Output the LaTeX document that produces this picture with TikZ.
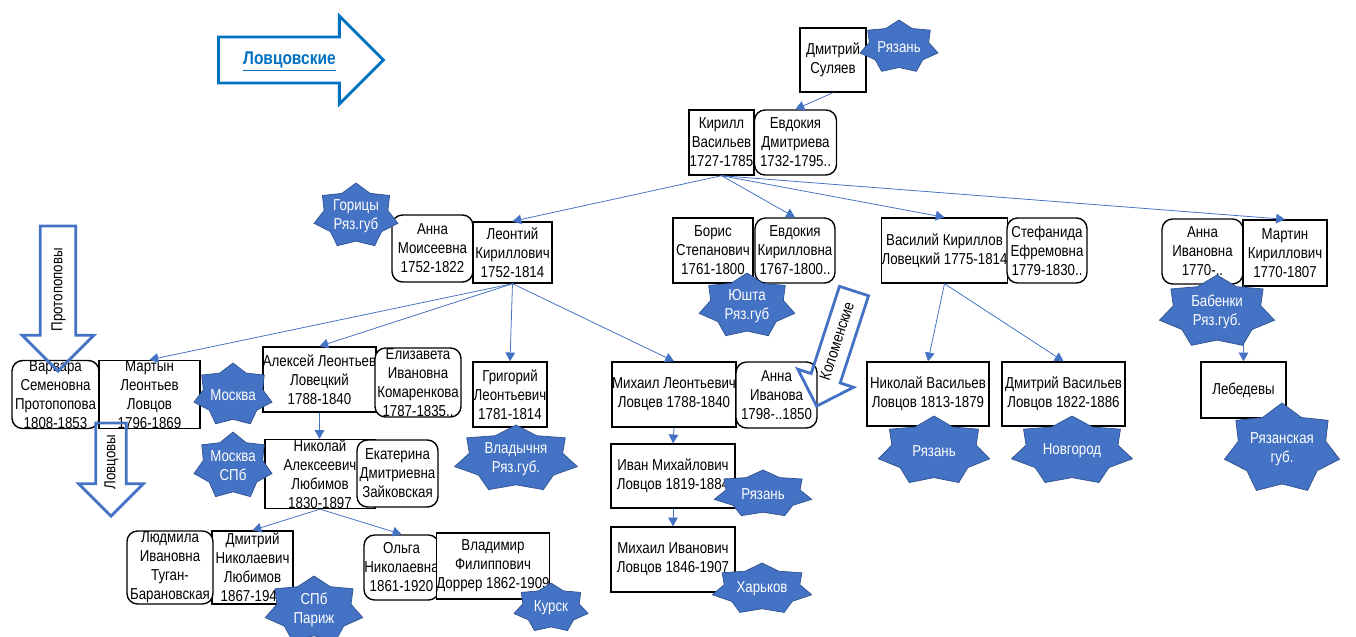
\documentclass[tikz,border=0pt]{standalone}
\usepackage{fontspec}
\setmainfont{Liberation Sans}[FakeStretch=0.84]
\usetikzlibrary{arrows.meta, shapes.arrows}
\definecolor{starblue}{HTML}{4472C4}
\definecolor{starline}{HTML}{2F528F}
\definecolor{arrowblue}{HTML}{0070C0}

\tikzset{
  person/.style={draw, line width=0.8pt, fill=white, align=center, inner sep=0pt, font=\fontsize{9}{10.8}\selectfont},
  spouse/.style={person, rounded corners=6pt},
  boxsize/.style 2 args={minimum width=#1*0.02cm, minimum height=#2*0.02cm},
  link/.style={starblue, line width=0.45pt, -{Triangle[width=5.5pt,length=5pt]}},
  startext/.style={text=white, align=center, inner sep=0pt, font=\fontsize{9}{10.8}\selectfont},
  hollow/.style={single arrow, draw=starblue, line width=1.6pt, inner xsep=0pt, text height=7pt, text depth=2pt, font=\fontsize{9}{10.8}\selectfont, single arrow tip angle=90}
}

% star with a town name: name, x, y, x radius, y radius, text
\newcommand{\citystar}[6]{%
  \filldraw[fill=starblue, draw=starline, line width=0.4pt] ({#2},{#3-#5})
    \foreach \k [evaluate=\k as \rx using {mod(\k,2)==0 ? #4 : 0.76*#4},
                 evaluate=\k as \ry using {mod(\k,2)==0 ? #5 : 0.76*#5}] in {1,...,13}
    {-- ({#2+\rx*cos(-90+\k*360/14)},{#3+\ry*sin(-90+\k*360/14)})} -- cycle;
  \node[startext] (#1) at (#2,#3) {#6};
}

\begin{document}
\begin{tikzpicture}[x=0.02cm, y=-0.02cm]
  \useasboundingbox (0,0) rectangle (1356,636);
  % First generations
  \node[person, boxsize={66}{64}] (dmitry) at (833,60) {Дмитрий\\Суляев};
  \node[person, boxsize={65}{65}] (kirill) at (721.5,142.5) {Кирилл\\Васильев\\1727-1785};
  \node[spouse, boxsize={82}{65}] (evdokiyaD) at (795.5,142.5) {Евдокия\\Дмитриева\\1732-1795..};
  \node[spouse, boxsize={81}{67}] (annaM) at (432.5,248.5) {Анна\\Моисеевна\\1752-1822};
  \node[person, boxsize={79}{61}] (leonty) at (512.5,252.5) {Леонтий\\Кириллович\\1752-1814};
  \node[person, boxsize={80}{65}] (boris) at (713,250.5) {Борис\\Степанович\\1761-1800};
  \node[spouse, boxsize={80}{65}] (evdokiyaK) at (795,250.5) {Евдокия\\Кирилловна\\1767-1800..};
  \node[person, boxsize={125}{65}] (vasily) at (944.5,250.5) {Василий Кириллов\\Ловецкий 1775-1814};
  \node[spouse, boxsize={80}{65}] (stefanida) at (1047,250.5) {Стефанида\\Ефремовна\\1779-1830..};
  \node[spouse, boxsize={81}{65}] (annaI) at (1202.5,251.5) {Анна\\Ивановна\\1770-..};
  \node[person, boxsize={84}{66}] (martin) at (1285,253) {Мартин\\Кириллович\\1770-1807};
  % Grandchildren
  \node[spouse, boxsize={87}{65}] (varvara) at (55.5,394.5) {Варвара\\Семеновна\\Протопопова\\1808-1853};
  \node[person, boxsize={101}{65}] (martyn) at (149.5,394.5) {Мартын\\Леонтьев\\Ловцов\\1796-1869};
  \node[person, boxsize={111}{65}] (aleksey) at (319.5,379.5) {Алексей Леонтьев\\Ловецкий\\1788-1840};
  \node[spouse, boxsize={86}{69}] (elizaveta) at (418,382.5) {Елизавета\\Ивановна\\Комаренкова\\1787-1835..};
  \node[person, boxsize={74}{65}] (grigory) at (510,394.5) {Григорий\\Леонтьевич\\1781-1814};
  \node[person, boxsize={124}{65}] (mikhailL) at (674,394.5) {Михаил Леонтьевич\\Ловцев 1788-1840};
  \node[spouse, boxsize={81}{66}] (annaIv) at (776.5,395) {Анна\\Иванова\\1798-..1850};
  \node[person, boxsize={122}{64}] (nikolayV) at (928,394) {Николай Васильев\\Ловцов 1813-1879};
  \node[person, boxsize={123}{64}] (dmitryV) at (1063.5,394) {Дмитрий Васильев\\Ловцов 1822-1886};
  \node[person, boxsize={85}{56}] (lebedevy) at (1243.5,390) {Лебедевы};
  % Later generations
  \node[person, boxsize={110}{64}] (nikolayA) at (320,474) {Николай\\Алексеевич\\Любимов\\1830-1897};
  \node[spouse, boxsize={81}{67}] (ekaterina) at (397.5,473.5) {Екатерина\\Дмитриевна\\Зайковская};
  \node[person, boxsize={124}{64}] (ivan) at (673,476) {Иван Михайлович\\Ловцов 1819-1884};
  \node[person, boxsize={81}{73}] (dmitryN) at (252.5,567.5) {Дмитрий\\Николаевич\\Любимов\\1867-1942};
  \node[spouse, boxsize={86}{73}] (lyudmila) at (170,567.5) {Людмила\\Ивановна\\Туган-\\Барановская};
  \node[spouse, boxsize={75}{65}] (olga) at (401.5,567.5) {Ольга\\Николаевна\\1861-1920};
  \node[person, boxsize={108}{66}] (vladimir) at (493,566) {Владимир\\Филиппович\\Доррер 1862-1909};
  \node[person, boxsize={124}{65}] (mikhailI) at (673,559.5) {Михаил Иванович\\Ловцов 1846-1907};

  % Descent lines
  \draw[link] (dmitry.south) -- (evdokiyaD.north);
  \foreach \child in {leonty, evdokiyaK, vasily, martin}
    \draw[link] (kirill.south) -- (\child.north);
  \foreach \child in {martyn, aleksey, grigory, mikhailL}
    \draw[link] (leonty.south) -- (\child.north);
  \draw[link] (aleksey.south) -- (aleksey.south |- nikolayA.north);
  \draw[link] (nikolayA.south) -- (dmitryN.north);
  \draw[link] (nikolayA.south) -- (olga.north);
  \draw[link] (mikhailL.south) -- (ivan.north);
  \draw[link] (ivan.south) -- (mikhailI.north);
  \draw[link] (vasily.south) -- (nikolayV.north);
  \draw[link] (vasily.south) -- (dmitryV.north);
  \draw[link] (annaI.south east) -- (lebedevy.north);

  % Places
  \citystar{ryazanTop}{899}{47}{40}{27}{Рязань}
  \citystar{goritsy}{356}{216}{43}{33}{Горицы\\Ряз.губ}
  \citystar{yushta}{747}{306}{49}{33}{Юшта\\Ряз.губ}
  \citystar{babenki}{1217}{312}{59}{37}{Бабенки\\Ряз.губ.}
  \citystar{moskva}{233}{395}{40}{32}{Москва}
  \citystar{moskvaSpb}{233}{466}{40}{34}{Москва\\СПб}
  \citystar{vladychnya}{516}{459}{63}{34}{Владычня\\Ряз.губ.}
  \citystar{ryazanIvan}{763}{494}{50}{24}{Рязань}
  \citystar{kharkov}{762}{589}{51}{26}{Харьков}
  \citystar{ryazanNik}{934}{451}{57}{35}{Рязань}
  \citystar{novgorod}{1072}{451}{62}{35}{Новгород}
  \citystar{ryazGub}{1282}{449}{59}{46}{Рязанская\\губ.}
  \citystar{spbParis}{314}{610}{50}{34}{СПб\\Париж}
  \citystar{kursk}{551}{608}{38}{25}{Курск}

  % Family branch arrows
  \node[hollow, draw=arrowblue, text=arrowblue, anchor=tail, minimum height=3.3cm,
        inner ysep=7.8pt, single arrow head extend=0.42cm, font=\fontsize{10.5}{12}\selectfont]
        (lovtsovskie) at (217,60) {\underline{\textbf{Ловцовские}}};
  \node[hollow, rotate=90, shape border rotate=180, anchor=tip, minimum height=2.9cm,
        inner ysep=4.8pt, single arrow head extend=0.36cm] (protopopovy) at (58,373) {Протопоповы};
  \node[hollow, rotate=90, shape border rotate=180, anchor=tip, minimum height=1.86cm,
        inner ysep=3.4pt, single arrow head extend=0.34cm] (lovtsovy) at (111,518) {Ловцовы};
  \node[hollow, rotate=72, shape border rotate=180, anchor=tip, minimum height=2.42cm,
        inner ysep=3.4pt, single arrow head extend=0.28cm] (kolomenskie) at (816,408) {Коломенские};
\end{tikzpicture}
\end{document}
